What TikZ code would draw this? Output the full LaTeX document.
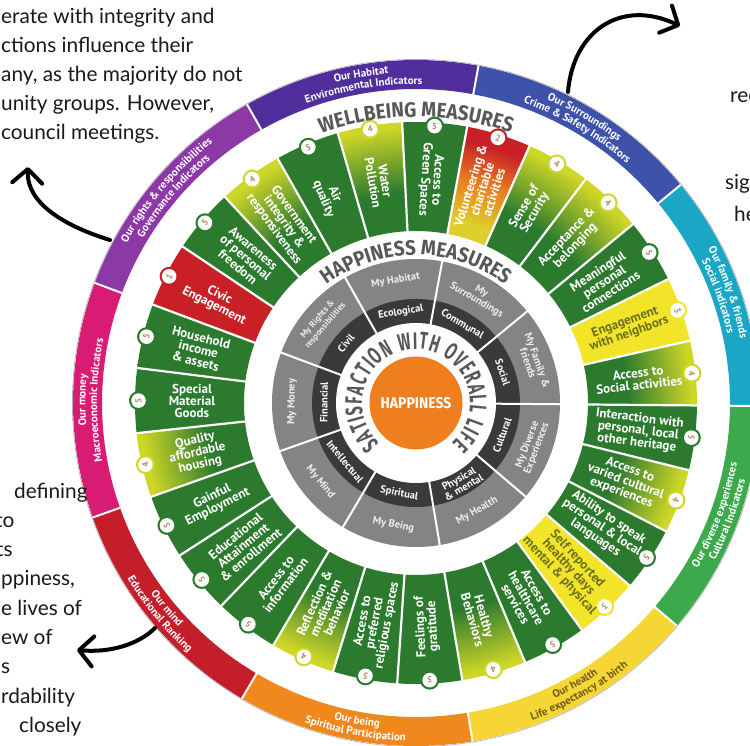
\documentclass[tikz,border=0pt]{standalone}
\usepackage{fontspec}
\setmainfont{Lato}
\newfontfamily\segff{PT Sans}
\newfontfamily\titleff[FakeStretch=0.9]{Fira Sans}
\newfontfamily\satff[FakeStretch=0.62]{Fira Sans}
\usetikzlibrary{decorations.text,arrows.meta}

\definecolor{sgreen}{RGB}{44,122,46}
\definecolor{syg}{RGB}{206,214,40}
\definecolor{sred}{RGB}{200,32,38}
\definecolor{syellow}{RGB}{242,228,40}
\definecolor{sorange}{RGB}{232,122,32}
\definecolor{syel2}{RGB}{222,206,44}
\definecolor{olivetxt}{RGB}{105,112,30}
\definecolor{digitc}{RGB}{170,145,100}
\definecolor{rgray}{RGB}{132,132,132}
\definecolor{rdark}{RGB}{58,58,58}
\definecolor{hapor}{RGB}{238,126,30}
\definecolor{titleg}{RGB}{88,88,88}
\definecolor{bHab}{RGB}{80,46,155}
\definecolor{bSur}{RGB}{62,82,170}
\definecolor{bFam}{RGB}{26,166,196}
\definecolor{bDiv}{RGB}{60,170,76}
\definecolor{bHea}{RGB}{246,214,52}
\definecolor{bBei}{RGB}{240,136,30}
\definecolor{bMin}{RGB}{196,30,42}
\definecolor{bMon}{RGB}{216,28,116}
\definecolor{bRig}{RGB}{140,56,166}
\definecolor{heatxt}{RGB}{110,92,30}
\definecolor{paratxt}{RGB}{25,25,25}
\colorlet{tabg}{sgreen}\colorlet{tabr}{sred}\colorlet{taby}{syellow}\colorlet{tabf}{syg}\colorlet{tabt}{sred}
\colorlet{txtg}{white}\colorlet{txtr}{white}\colorlet{txty}{olivetxt}\colorlet{txtf}{white}\colorlet{txtt}{white}

% radial shadings: path bbox half-width (300) corresponds to 25bp
\pgfdeclareradialshading{shg}{\pgfpoint{0bp}{0bp}}{color(0bp)=(sgreen); color(50bp)=(sgreen)}
\pgfdeclareradialshading{shr}{\pgfpoint{0bp}{0bp}}{color(0bp)=(sred); color(50bp)=(sred)}
\pgfdeclareradialshading{shy}{\pgfpoint{0bp}{0bp}}{color(0bp)=(syellow); color(50bp)=(syellow)}
\pgfdeclareradialshading{shf}{\pgfpoint{0bp}{0bp}}{color(0bp)=(sgreen); color(17.6bp)=(sgreen); color(23bp)=(syg); color(50bp)=(syg)}
\pgfdeclareradialshading{sht}{\pgfpoint{0bp}{0bp}}{color(0bp)=(syel2); color(15.6bp)=(syel2); color(19.2bp)=(sorange); color(22.2bp)=(sred); color(50bp)=(sred)}

\newcommand\bandfont{\segff\bfseries\fontsize{11}{11}\selectfont}
\newcommand\bandup[4]{%
\path[decorate,decoration={text along path,text align=center,text={|\bandfont\color{#4}|#2}}] ({#1+22}:330.5) arc[start angle={#1+22},end angle={#1-22},radius=330.5];
\path[decorate,decoration={text along path,text align=center,text={|\bandfont\color{#4}|#3}}] ({#1+22}:319) arc[start angle={#1+22},end angle={#1-22},radius=319];}
\newcommand\banddown[4]{%
\path[decorate,decoration={text along path,text align=center,text={|\bandfont\color{#4}|#2}}] ({#1-22}:326.5) arc[start angle={#1-22},end angle={#1+22},radius=326.5];
\path[decorate,decoration={text along path,text align=center,text={|\bandfont\color{#4}|#3}}] ({#1-22}:338) arc[start angle={#1-22},end angle={#1+22},radius=338];}

\tikzset{
  segtext/.style={align=center,inner sep=0pt,font=\segff\bfseries\fontsize{13}{12.2}\selectfont},
  digit/.style={inner sep=0pt,text=digitc,font=\segff\bfseries\fontsize{9}{9}\selectfont},
  dlabel/.style={align=center,inner sep=0pt,text=white,font=\segff\bfseries\fontsize{10.5}{10}\selectfont},
  glabel/.style={align=center,inner sep=0pt,text=white!93!black},
  para/.style={anchor=base west,inner sep=0pt,text=paratxt,font=\fontsize{20.8}{22}\selectfont},
  bigarrow/.style={line width=4,line cap=round,-{Straight Barb[length=14pt,width=30pt,round]}}
}

\begin{document}
\begin{tikzpicture}[x=1pt,y=1pt]
\useasboundingbox (-416,-342) rectangle (334,403);
\fill[white] (-416,-342) rectangle (334,403);

% ---------- outer band ----------
\foreach \j/\col in {0/bHab,1/bSur,2/bFam,3/bDiv,4/bHea,5/bBei,6/bMin,7/bMon,8/bRig}{
  \pgfmathsetmacro\ang{99.5-40*\j}
  \fill[\col] ({\ang+20}:314) arc[start angle={\ang+20},end angle={\ang-20},radius=314]
     -- ({\ang-20}:343) arc[start angle={\ang-20},end angle={\ang+20},radius=343] -- cycle;
}
\foreach \j in {0,...,8} \draw[white,line width=2] ({119.5-40*\j}:312) -- ({119.5-40*\j}:345);
\draw[black!30,line width=0.7] (0,0) circle (343.6);

\bandup{99.5}{Our Habitat}{Environmental Indicators}{white}
\bandup{59.5}{Our Surroundings}{Crime {\&} Safety Indicators}{white}
\bandup{19.5}{Our family {\&} friends}{Social indicators}{white}
\banddown{-20.5}{Our diverse experiences}{Cultural Indicators}{white}
\banddown{-60.5}{Our health}{Life expectancy at birth}{heatxt}
\banddown{-100.5}{Our being}{Spiritual Participation}{white}
\banddown{-140.5}{Our mind}{Educational Ranking}{white}
\bandup{179.5}{Our money}{Macroeconomic Indicators}{white}
\bandup{139.5}{Our rights {\&} responsibilities}{Governance Indicators}{white}

% ---------- wellbeing segments ----------
\foreach \i/\typ/\sc/\txt in {
0/g/5/{Special\\Material\\Goods},
1/g/5/{Household\\income\\\& assets},
2/r/1/{Civic\\Engagement},
3/g/5/{Awareness\\of personal\\freedom},
4/f/4/{Government\\integrity \&\\responsiveness},
5/g/5/{Air\\quality},
6/f/4/{Water\\Pollution},
7/g/5/{Access to\\Green Spaces},
8/t/2/{Volunteering \&\\charitable\\activities},
9/f/4/{Sense of\\Security},
10/f/4/{Acceptance \&\\belonging},
11/g/5/{Meaningful\\personal\\connections},
12/y/3/{Engagement\\with neighbors},
13/f/4/{Access to\\Social activities},
14/g/5/{Interaction with\\personal, local\\other heritage},
15/f/4/{Access to\\varied cultural\\experiences},
16/g/5/{Ability to speak\\personal \& local\\languages},
17/y/3/{Self reported\\healthy days\\mental \& physical},
18/g/5/{Access to\\healthcare\\services},
19/f/4/{Healthy\\Behaviors},
20/g/5/{Feelings of\\gratitude},
21/g/5/{Access to\\preferred\\religious spaces},
22/f/4/{Reflection \&\\meditation\\behavior},
23/g/5/{Access to\\information},
24/g/5/{Educational\\Attainment\\\& enrollment},
25/g/5/{Gainful\\Employment},
26/f/4/{Quality\\affordable\\housing}}{
  \pgfmathsetmacro\ang{179.5-13.333333*\i}
  \pgfmathsetmacro\rot{cos(\ang)>0.17 ? \ang : \ang+180}
  \pgfmathsetmacro\drot{\ang-90}
  \begin{scope}
    \clip ({\ang+6.666667}:172) arc[start angle={\ang+6.666667},end angle={\ang-6.666667},radius=172]
       -- ({\ang-6.666667}:281) arc[start angle={\ang-6.666667},end angle={\ang+6.666667},radius=281] -- cycle;
    \shade[shading=sh\typ] (0,0) circle (300);
  \end{scope}
  \fill[tab\typ] (\ang:277.5) circle (9.5);
  \fill[white] (\ang:277.5) circle (7.3);
  \node[digit,rotate=\drot] (d\i) at (\ang:277.5) {\sc};
  \node[segtext,text=txt\typ,rotate=\rot] (s\i) at (\ang:224) {\txt};
}
\foreach \k in {0,...,26} \draw[white,line width=2.2] ({186.166667-13.333333*\k}:170) -- ({186.166667-13.333333*\k}:282);

% ---------- happiness rings ----------
\fill[rgray] (0,0) circle (144);
\fill[rdark] (0,0) circle (104);
\fill[white] (0,0) circle (80);
\foreach \j in {0,...,8} \draw[white,line width=2] ({119.5-40*\j}:79) -- ({119.5-40*\j}:145);
\foreach \j/\gl/\dl/\gf in {
0/{My Habitat}/{Ecological}/10.5,
1/{My\\Surroundings}/{Communal}/10.5,
2/{My Family \&\\friends}/{Social}/10.5,
3/{My Diverse\\Experiences}/{Cultural}/10.5,
4/{My Health}/{Physical\\\& mental}/10.5,
5/{My Being}/{Spiritual}/10.5,
6/{My Mind}/{Intellectual}/10.5,
7/{My Money}/{Financial}/10.5,
8/{My Rights \&\\responsibilities}/{Civil}/8.8}{
  \pgfmathsetmacro\ang{99.5-40*\j}
  \pgfmathsetmacro\rot{sin(\ang)>0 ? \ang-90 : \ang+90}
  \node[glabel,font=\segff\bfseries\fontsize{\gf}{10}\selectfont,rotate=\rot] (g\j) at (\ang:124) {\gl};
  \node[dlabel,rotate=\rot] (k\j) at (\ang:92) {\dl};
}
\node[circle,fill=hapor,minimum size=93pt,inner sep=0pt,text=white,font=\titleff\bfseries\fontsize{15.5}{15.5}\selectfont] (hap) at (0,0) {HAPPINESS};

% ---------- curved titles ----------
\path[decorate,decoration={text along path,text align=center,text={|\titleff\bfseries\fontsize{21}{21}\selectfont\color{titleg}|WELLBEING MEASURES}}] (155:286) arc[start angle=155,end angle=25,radius=286];
\path[decorate,decoration={text along path,text align=center,text={|\titleff\bfseries\fontsize{21}{21}\selectfont\color{titleg}|HAPPINESS MEASURES}}] (160:148) arc[start angle=160,end angle=20,radius=148];
\path[decorate,decoration={text along path,text align={fit to path},text={|\satff\bfseries\fontsize{24}{24}\selectfont\color{titleg}|SATISFACTION WITH OVERALL LIFE}}] (228:54) arc[start angle=228,end angle=-48,radius=54];

% ---------- arrows ----------
\coordinate (a1s) at (-306,163);
\coordinate (a1e) at (-388,236);
\draw[bigarrow] (a1s) .. controls (-342,174) and (-390,196) .. (a1e);
\coordinate (a2s) at (152,311);
\coordinate (a2e) at (264,377);
\draw[bigarrow] (a2s) .. controls (157,372) and (205,405) .. (a2e);
\coordinate (a3s) at (-261,-225);
\coordinate (a3e) at (-339,-247);
\draw[bigarrow] (a3s) .. controls (-277,-241) and (-305,-250) .. (a3e);

% ---------- cropped paragraph text ----------
\node[para] (p1) at (-415,379) {erate with integrity and};
\node[para] (p2) at (-415,350) {ctions influence their};
\node[para] (p3) at (-415,321) {any, as the majority do not};
\node[para] (p4) at (-415,292) {unity groups. However,};
\node[para] (p5) at (-415,263) {council meetings.};

\node[para] (q1) at (-402,-95) {defining};
\node[para] (q2) at (-421,-124.3) {to};
\node[para] (q3) at (-420,-153.6) {ts};
\node[para] (q4) at (-415,-182.9) {ppiness,};
\node[para] (q5) at (-415,-212.2) {e lives of};
\node[para] (q6) at (-415,-241.5) {ew of};
\node[para] (q7) at (-415,-270.8) {s};
\node[para] (q8) at (-415,-300.1) {rdability};
\node[para] (q9) at (-397,-329.4) {closely};

\node[para] (r1) at (314,300) {rec};
\node[para] (r2) at (309,213) {sig};
\node[para] (r3) at (318,181) {he};
\end{tikzpicture}
\end{document}
